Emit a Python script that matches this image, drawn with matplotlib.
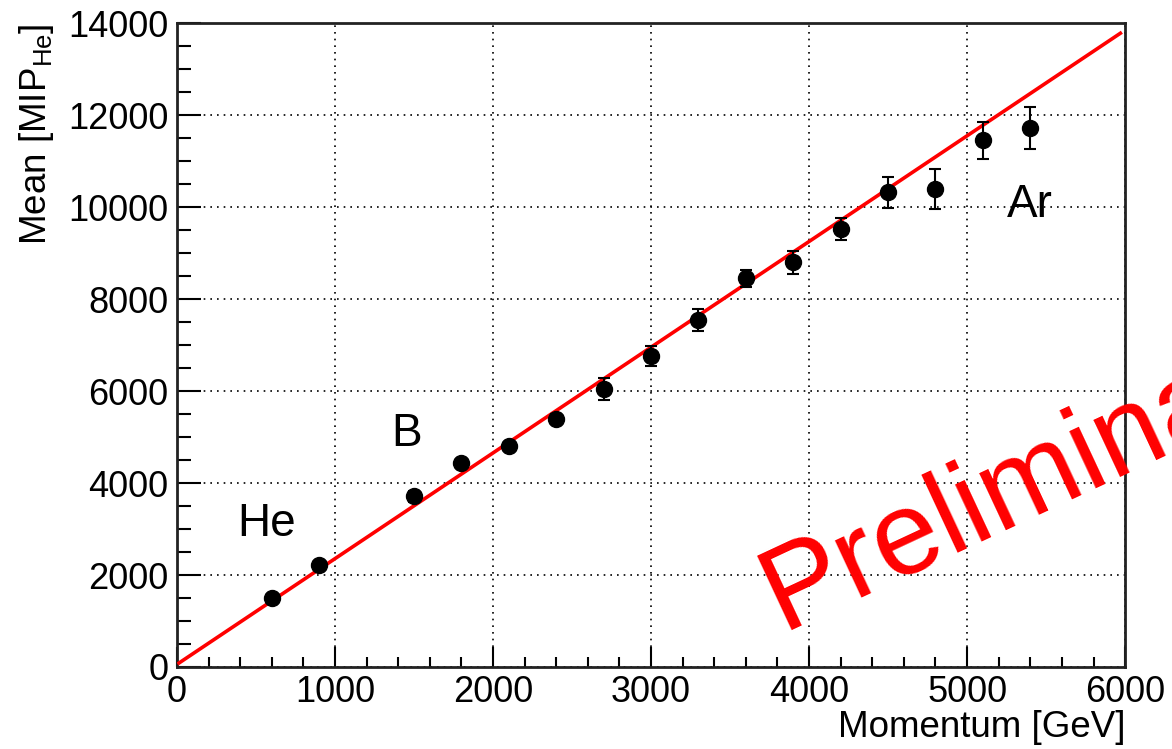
import matplotlib
matplotlib.use("Agg")
import matplotlib.pyplot as plt
import numpy as np
from matplotlib.ticker import MultipleLocator

plt.rcParams['font.family'] = ['Liberation Sans', 'DejaVu Sans']

momentum = [600, 900, 1500, 1800, 2100, 2400, 2700, 3000, 3300, 3600, 3900, 4200, 4500, 4800, 5100, 5400]
mean_mip = [1500, 2220, 3710, 4440, 4800, 5400, 6050, 6770, 7550, 8450, 8800, 9520, 10320, 10400, 11450, 11730]
mean_err = [60, 70, 120, 90, 90, 100, 240, 220, 240, 185, 250, 240, 337, 440, 400, 456]

fit_slope = 2.299
fit_intercept = 57.0
fit_range = [13, 5970]

species_labels = ["He", "B", "Ar"]
species_x = [570, 1456, 5253]
species_y = [3109, 5065, 10043]

fig = plt.figure(figsize=(11.72, 7.49), dpi=100)
ax = fig.add_axes([0.151, 0.1095, 0.809, 0.8595])

ax.set_xlim(0, 6000)
ax.set_ylim(0, 14000)

ax.grid(True, which='major', color='black', linestyle=(0, (1, 3)), linewidth=1.2)
ax.set_axisbelow(True)

xf = np.linspace(fit_range[0], fit_range[1], 400)
ax.plot(xf, fit_slope * xf + fit_intercept, color='#ff0000', lw=2.6, zorder=3)

ax.errorbar(momentum, mean_mip, yerr=mean_err, fmt='o', color='black', ms=11.5,
            ecolor='black', elinewidth=1.5, capsize=4, capthick=1.5, zorder=4)

for lab, lx, ly in zip(species_labels, species_x, species_y):
    ax.text(lx, ly, lab, fontsize=33, ha='center' if lab != 'Ar' else 'left', va='center', color='black')

ax.xaxis.set_major_locator(MultipleLocator(1000))
ax.xaxis.set_minor_locator(MultipleLocator(200))
ax.yaxis.set_major_locator(MultipleLocator(2000))
ax.yaxis.set_minor_locator(MultipleLocator(500))
ax.tick_params(which='major', direction='in', length=14.5, width=1.5, labelsize=26,
               top=False, right=False, pad=6)
ax.tick_params(which='minor', direction='in', length=7.2, width=1.5, top=False, right=False)
ax.tick_params(axis='y', which='major', length=17)
ax.tick_params(axis='y', which='minor', length=10)
for sp in ax.spines.values():
    sp.set_linewidth(2)
    sp.set_color('#222222')

ax.set_xlabel('Momentum [GeV]', fontsize=26.5, loc='right', labelpad=0)
ax.set_ylabel(r'Mean [MIP$_{\mathregular{He}}$]', fontsize=26.5, loc='top')
ax.yaxis.set_label_coords(-0.128, 1.0)

fig.text(782 / 1172, 1 - 630 / 749, 'Preliminary', color='#ff0000', fontsize=86,
         rotation=25, rotation_mode='anchor', ha='left', va='baseline')

fig.savefig('out.png', dpi=100)
